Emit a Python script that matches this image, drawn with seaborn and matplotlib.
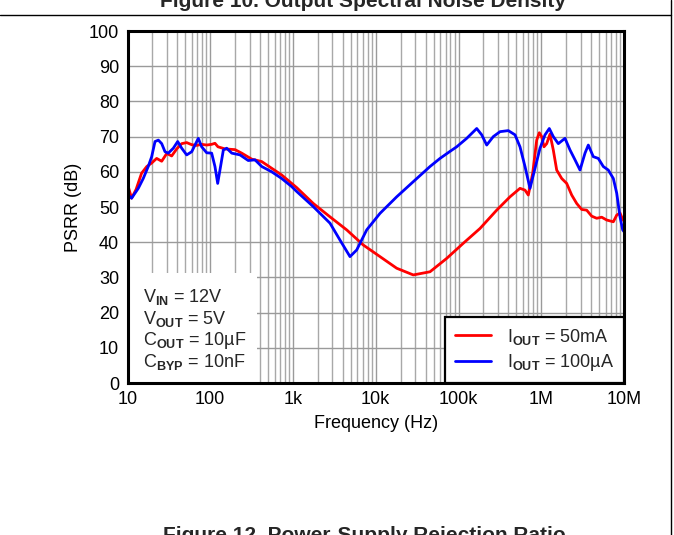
import numpy as np
import pandas as pd
import matplotlib
matplotlib.use("Agg")
import matplotlib.pyplot as plt
from matplotlib.patches import Rectangle
from matplotlib.lines import Line2D
import seaborn as sns

# ---------------- data ----------------
freq_50mA = [10, 11.2, 12.7, 14.8, 17.1, 19.6, 22.5, 25.9, 29.8, 34.2, 39.3, 45.2, 51.9,
             59.7, 68.6, 78.8, 90.6, 104, 114, 124, 151, 199, 240, 317, 419, 553, 730,
             964, 1109, 1759, 2800, 4456, 7071, 11260, 17920, 28430, 45250, 72000,
             114300, 181900, 289400, 419300, 553500, 636300, 697600, 788200, 881000,
             947100, 1.0126e6, 1.0794e6, 1.1636e6, 1.2755e6, 1.398e6, 1.537e6, 1.767e6,
             2.03e6, 2.333e6, 2.682e6, 3.083e6, 3.542e6, 4.071e6, 4.677e6, 5.376e6,
             6.18e6, 7.43e6, 8.17e6, 8.95e6, 9.64e6, 1e7]
psrr_50mA = [56.5, 52.5, 55.0, 59.6, 61.5, 62.5, 63.8, 63.0, 65.2, 64.5, 66.5, 68.0, 68.3,
             67.7, 67.5, 67.8, 67.6, 67.8, 68.1, 67.1, 66.5, 66.3, 65.3, 63.6, 62.9, 61.0,
             59.1, 56.7, 55.5, 51.0, 47.2, 43.5, 39.2, 35.9, 32.6, 30.7, 31.6, 35.4,
             39.7, 43.9, 49.1, 52.9, 55.3, 54.8, 53.4, 59.6, 69.0,
             71.1, 70.0, 67.1, 68.0, 70.7, 66.2, 60.5, 58.1,
             56.7, 53.4, 51.0, 49.3, 49.1, 47.4, 46.8, 47.1,
             46.3, 45.8, 47.7, 48.3, 46.5, 46.0]

freq_100uA = [10, 10.2, 11.2, 13.5, 15.5, 17.8, 19.6, 21.5, 23.6, 25.9, 28.4, 31.1, 35.8,
              40.4, 45.2, 51.9, 59.7, 65.4, 71.7, 78.8, 90.6, 104, 114, 123, 131, 144,
              158, 182, 229, 288, 347, 419, 553, 730, 964, 1109, 1759, 2800, 3698, 4884,
              5887, 7776, 11260, 17920, 28430, 45250, 59760, 78930, 95100, 125600,
              166000, 190800, 219200, 263400, 317400, 399900, 481800, 553500, 636300,
              731100, 840500, 966000, 1.11e6, 1.251e6, 1.398e6, 1.607e6, 1.936e6,
              2.226e6, 2.558e6, 2.94e6, 3.379e6, 3.704e6, 4.256e6, 4.891e6, 5.62e6,
              6.46e6, 7.43e6, 8.17e6, 8.95e6, 9.64e6, 1e7]
psrr_100uA = [54.5, 53.4, 52.5, 55.3, 58.1, 61.5, 64.3, 68.6, 69.0, 68.0, 65.7, 65.3, 66.7,
              68.6, 66.7, 64.8, 65.7, 67.6, 69.5, 67.1, 65.4, 65.3, 61.5, 56.7, 60.5, 66.2,
              66.7, 65.3, 64.8, 63.2, 63.4, 61.5, 60.0, 58.1, 55.8, 54.4, 50.1, 45.4, 40.6, 35.9,
              37.8, 43.5, 48.2, 52.9, 57.2, 61.5, 63.8, 65.8, 67.1, 69.5,
              72.3, 70.5, 67.6, 70.0, 71.4, 71.7, 70.5, 67.1, 61.5,
              55.3, 61.0, 66.7, 70.5, 72.3, 70.0, 68.0, 69.5,
              66.2, 63.4, 60.5, 65.3, 67.6, 64.3, 63.8, 61.5,
              60.5, 58.1, 53.9, 47.2, 43.5, 43.0]

series_labels = [r"I$_{\mathbf{OUT}}$ = 50mA", r"I$_{\mathbf{OUT}}$ = 100µA"]
series_colors = ["#ff0000", "#0000ff"]
x_ticks = [10, 100, 1e3, 1e4, 1e5, 1e6, 1e7]
x_ticklabels = ["10", "100", "1k", "10k", "100k", "1M", "10M"]
y_ticks = list(range(0, 101, 10))
conditions = [r"V$_{\mathbf{IN}}$ = 12V", r"V$_{\mathbf{OUT}}$ = 5V",
              r"C$_{\mathbf{OUT}}$ = 10µF", r"C$_{\mathbf{BYP}}$ = 10nF"]

# ---------------- style ----------------
sns.set_theme(style="white")
plt.rcParams["font.family"] = ["Liberation Sans", "DejaVu Sans"]
plt.rcParams["mathtext.fontset"] = "custom"
plt.rcParams["mathtext.rm"] = "Liberation Sans"
plt.rcParams["mathtext.it"] = "Liberation Sans:italic"
plt.rcParams["mathtext.bf"] = "Liberation Sans:bold"
plt.rcParams["mathtext.default"] = "regular"

FS = 13

df = pd.concat([
    pd.DataFrame({"freq": freq_50mA, "psrr": psrr_50mA, "series": series_labels[0]}),
    pd.DataFrame({"freq": freq_100uA, "psrr": psrr_100uA, "series": series_labels[1]}),
], ignore_index=True)

W, H = 674, 535
fig = plt.figure(figsize=(W / 100, H / 100), dpi=100)
ax = fig.add_axes([127.5 / W, 1 - 383 / H, (624 - 127.5) / W, (383 - 31) / H])

sns.lineplot(data=df, x="freq", y="psrr", hue="series", palette=series_colors,
             hue_order=series_labels, estimator=None, sort=False, linewidth=2.0,
             ax=ax, legend=False, zorder=3)

ax.set_xscale("log")
ax.set_xlim(10, 1e7)
ax.set_ylim(0, 100)
ax.set_xticks(x_ticks)
ax.set_xticklabels(x_ticklabels)
ax.set_yticks(y_ticks)
ax.xaxis.set_minor_locator(matplotlib.ticker.LogLocator(base=10, subs=np.arange(2, 10)))
ax.xaxis.set_minor_formatter(matplotlib.ticker.NullFormatter())
ax.grid(True, which="major", color="#9a9a9a", linewidth=1.0)
ax.grid(True, which="minor", axis="x", color="#a8a8a8", linewidth=1.0)
ax.tick_params(axis="both", which="both", length=0, labelsize=FS, pad=6, colors="black")
ax.set_xlabel("Frequency (Hz)", fontsize=FS, labelpad=5, color="black")
ax.set_ylabel("PSRR (dB)", fontsize=FS, labelpad=5, color="black")
for sp in ax.spines.values():
    sp.set_color("black")
    sp.set_linewidth(2.2)
    sp.set_zorder(5)

# condition box (white, covers gridlines)
ax.add_patch(Rectangle((0, 0), (257 - 127.5) / (624 - 127.5), (383 - 273) / 352,
                       transform=ax.transAxes, facecolor="white", edgecolor="none", zorder=2))
for i, t in enumerate(conditions):
    ax.text((143 - 127.5) / 496.5, (383 - (302 + 21.7 * i)) / 352, t,
            transform=ax.transAxes, fontsize=FS, va="baseline", ha="left", zorder=4)

handles = [Line2D([], [], color=c, linewidth=2.0) for c in series_colors]
leg = ax.legend(handles, series_labels, loc="lower right", bbox_to_anchor=(1, 0),
                borderaxespad=0, fontsize=FS, frameon=True, fancybox=False,
                handlelength=2.0, handletextpad=0.9, borderpad=0.55, labelspacing=0.3)
leg.get_frame().set_edgecolor("black")
leg.get_frame().set_linewidth(1.6)
leg.get_frame().set_alpha(1)
leg.set_zorder(6)

# page frame and cut-off figure captions
fig.add_artist(Line2D([0, 671 / W], [1 - 15 / H, 1 - 15 / H], transform=fig.transFigure,
                      color="black", linewidth=1.0))
fig.add_artist(Line2D([671 / W, 671 / W], [0, 1], transform=fig.transFigure,
                      color="black", linewidth=1.0))
fig.text(363 / W, 1 - 7 / H, "Figure 10. Output Spectral Noise Density", ha="center",
         va="baseline", fontsize=15, fontweight="bold")
fig.text(364 / W, 1 - 541 / H, "Figure 12. Power-Supply Rejection Ratio", ha="center",
         va="baseline", fontsize=15, fontweight="bold")

fig.savefig("out.png", dpi=100)
